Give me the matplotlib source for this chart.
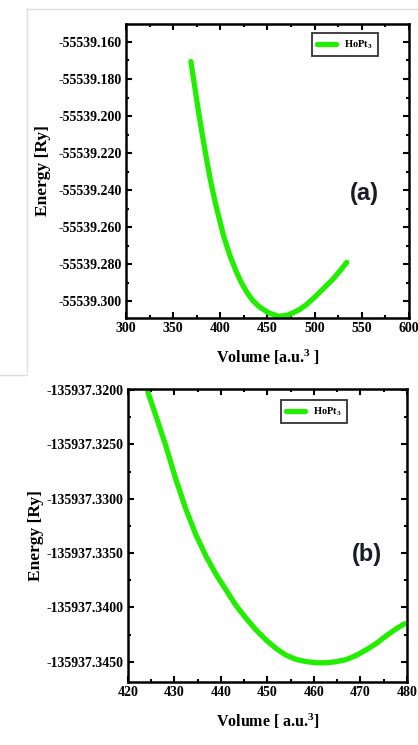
import matplotlib
matplotlib.use('Agg')
import matplotlib.pyplot as plt
from matplotlib.ticker import MultipleLocator, FormatStrFormatter
from matplotlib.lines import Line2D

# data
vol_a = [368.8, 373, 377.7, 383, 389.4, 394.8, 403.6, 410, 416.1, 422, 428, 434, 440.9, 451, 462,
         472, 484, 492, 501, 510, 519, 527, 534]
en_a = [-55539.1706, -55539.1846, -55539.2003, -55539.2163, -55539.2344, -55539.2470, -55539.2650,
        -55539.2750, -55539.2830, -55539.2897, -55539.2950, -55539.2993, -55539.3028, -55539.3062,
        -55539.3081, -55539.3074, -55539.3045, -55539.3015, -55539.2973, -55539.2928, -55539.2883,
        -55539.2835, -55539.2790]

vol_b = [424.3, 426.2, 428.2, 430.3, 432.5, 434.6, 436.8, 439.0, 441.1, 443.2, 445.4, 447.6, 449.7, 451.9,
         454.0, 456.2, 458.4, 460.5, 462.7, 464.8, 467.0, 469.2, 471.3, 473.5, 475.6, 477.6, 479.5]
en_b = [-135937.3202, -135937.3226, -135937.3252, -135937.3282, -135937.3310, -135937.3333, -135937.3353,
        -135937.3370, -135937.3384, -135937.3398, -135937.3410, -135937.3421, -135937.3430, -135937.3438,
        -135937.3444, -135937.3448, -135937.3450, -135937.3451, -135937.3451, -135937.3450, -135937.3448,
        -135937.3444, -135937.3439, -135937.3433, -135937.3426, -135937.3420, -135937.3415]

label = 'HoPt$_3$'
green = '#22ee00'

plt.rcParams['font.family'] = ['Liberation Serif', 'DejaVu Serif']
plt.rcParams['font.weight'] = 'bold'
plt.rcParams['mathtext.fontset'] = 'custom'
plt.rcParams['mathtext.rm'] = 'Liberation Serif:bold'
plt.rcParams['mathtext.it'] = 'Liberation Serif:bold'

fig = plt.figure(figsize=(4.18, 7.45), dpi=100)

# light grey frame lines around the pasted image
fig.add_artist(Line2D([27/418, 1], [1-9/745, 1-9/745], color='#dddddd', lw=1))
fig.add_artist(Line2D([27/418, 27/418], [1-9/745, 1-372/745], color='#dddddd', lw=1))
fig.add_artist(Line2D([0, 27/418], [1-375/745, 1-375/745], color='#dddddd', lw=1))


def style(ax):
    for s in ax.spines.values():
        s.set_linewidth(1.8)
    ax.tick_params(which='both', direction='in', top=True, right=True, width=1.5)
    ax.tick_params(which='major', length=4, labelsize=10, pad=3)
    ax.tick_params(which='minor', length=2)
    for t in ax.get_xticklabels() + ax.get_yticklabels():
        t.set_fontweight('bold')


# (a)
ax1 = fig.add_axes([0.3014, 0.5732, 0.677, 0.3946])
ax1.plot(vol_a, en_a, color=green, lw=3.8, label=label, solid_capstyle='round', solid_joinstyle='round')
ax1.set_xlim(300, 600)
ax1.set_ylim(-55539.3090, -55539.1503)
ax1.xaxis.set_major_locator(MultipleLocator(50))
ax1.xaxis.set_minor_locator(MultipleLocator(25))
ax1.yaxis.set_major_locator(MultipleLocator(0.02))
ax1.yaxis.set_minor_locator(MultipleLocator(0.01))
ax1.yaxis.set_major_formatter(FormatStrFormatter('%.3f'))
style(ax1)
ax1.set_xlabel('Volume [a.u.$^3$ ]', fontsize=11.5, fontweight='bold', labelpad=9)
ax1.set_ylabel('Energy [Ry]', fontsize=12.5, fontweight='bold', labelpad=5)
ax1.text(0.841, 0.425, '(a)', transform=ax1.transAxes, ha='center', va='center',
         fontsize=17, fontweight='bold', family='Liberation Sans', color='#1c1c28')
leg = ax1.legend(loc='upper right', bbox_to_anchor=(0.89, 0.969), borderaxespad=0, fancybox=False,
                 edgecolor='black', fontsize=7.5, handlelength=1.8, borderpad=0.5)
leg.get_frame().set_linewidth(1.3)

# (b)
ax2 = fig.add_axes([0.306, 0.085, 0.6675, 0.3929])
ax2.plot(vol_b, en_b, color=green, lw=3.8, label=label, solid_capstyle='round', solid_joinstyle='round')
ax2.set_xlim(420, 480)
ax2.set_ylim(-135937.34684, -135937.3199)
ax2.xaxis.set_major_locator(MultipleLocator(10))
ax2.xaxis.set_minor_locator(MultipleLocator(5))
ax2.yaxis.set_major_locator(MultipleLocator(0.005))
ax2.yaxis.set_minor_locator(MultipleLocator(0.0025))
ax2.yaxis.set_major_formatter(FormatStrFormatter('%.4f'))
style(ax2)
ax2.set_xlabel('Volume [ a.u.$^3$]', fontsize=11.5, fontweight='bold', labelpad=9)
ax2.set_ylabel('Energy [Ry]', fontsize=12.5, fontweight='bold', labelpad=2)
ax2.text(0.858, 0.436, '(b)', transform=ax2.transAxes, ha='center', va='center',
         fontsize=17, fontweight='bold', family='Liberation Sans', color='#1c1c28')
leg2 = ax2.legend(loc='upper right', bbox_to_anchor=(0.785, 0.962), borderaxespad=0, fancybox=False,
                  edgecolor='black', fontsize=7.5, handlelength=1.8, borderpad=0.5)
leg2.get_frame().set_linewidth(1.3)

fig.savefig('out.png', dpi=100)
